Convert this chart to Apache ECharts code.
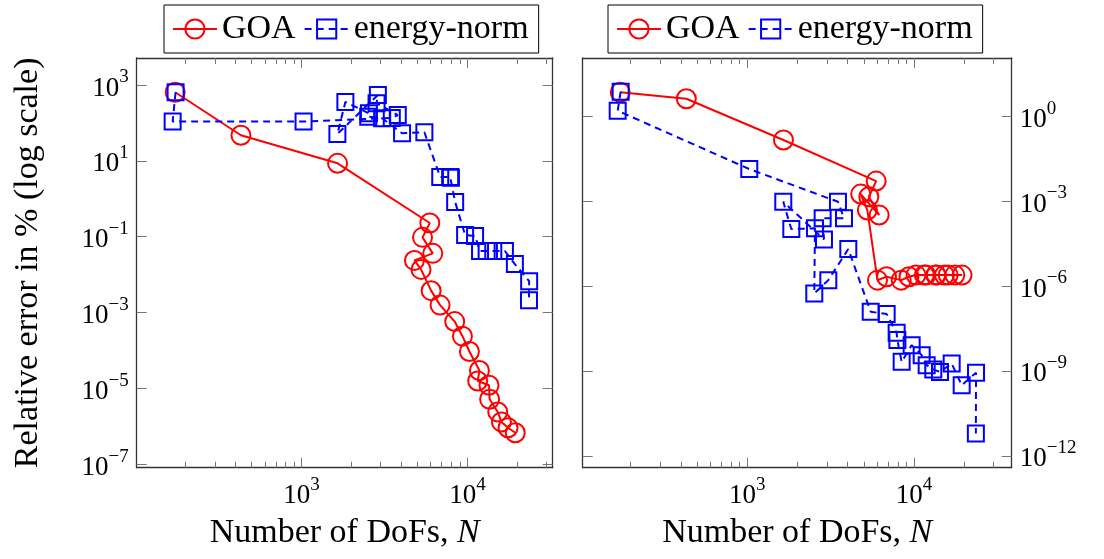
<!DOCTYPE html>
<html>
<head>
<meta charset="utf-8">
<script src="https://cdn.jsdelivr.net/npm/echarts@6/dist/echarts.min.js"></script>
<style>
  html, body { margin: 0; padding: 0; background: #fff; }
  #chart { width: 1104px; height: 559px; }
</style>
</head>
<body>
<div id="chart"></div>
<script>
// ---------- data ----------
// Degrees of freedom of the goal-oriented (GOA) refinement sequence
const goaDofs = [173, 431, 1648, 5930, 5360, 6180, 4790, 5250, 6040, 6840, 8380,
  9330, 10280, 11810, 11530, 13490, 13610, 15230, 16030, 17570, 19420];
// Relative error in % (left plot), GOA
const goaErrLeft = [641, 47.1, 8.59, 0.229, 0.0959, 0.0363, 0.0237, 0.0137, 3.78e-3,
  1.57e-3, 5.79e-4, 2.38e-4, 9.42e-5, 2.96e-5, 1.57e-5, 1.21e-5, 5.19e-6, 2.40e-6,
  1.31e-6, 9.18e-7, 6.78e-7];
// Relative error (right plot), GOA
const goaErrRight = [6.87, 4.08, 0.142, 5.05e-3, 1.41e-3, 3.18e-4, 1.75e-3, 4.76e-4,
  1.60e-6, 2.10e-6, 1.60e-6, 2.10e-6, 2.41e-6, 2.41e-6, 2.41e-6, 2.41e-6, 2.41e-6,
  2.41e-6, 2.41e-6, 2.41e-6, 2.41e-6];

// Degrees of freedom of the energy-norm refinement sequence
const energyDofs = [174, 167, 1028, 3499, 3802, 2832, 2884, 1644, 1837, 2547, 2523,
  3062, 4036, 5500, 6855, 7870, 7950, 8433, 9683, 11117, 11912, 13052, 14316, 16826,
  19319, 23550, 23500];
// Relative error in % (left plot), energy-norm
const energyErrLeft = [641, 108, 108, 134.5, 161, 329, 545, 50.9, 356, 179, 146, 132,
  53.2, 56.5, 3.74, 3.74, 3.6, 0.818, 0.110, 0.104, 0.0417, 0.0417, 0.0417, 0.0417,
  0.0189, 6.73e-3, 2.12e-3];
// Relative error (right plot), energy-norm
const energyErrRight = [7.22, 1.54, 0.0134, 9.37e-4, 2.43e-4, 2.43e-4, 4.4e-5,
  9.37e-4, 1.02e-4, 1.08e-4, 5.43e-7, 1.60e-6, 2.0e-5, 1.22e-7, 1.01e-7, 2.2e-8,
  1.22e-8, 2.08e-9, 8.1e-9, 3.59e-9, 1.59e-9, 1.12e-9, 9.2e-10, 1.82e-9, 3.13e-10,
  8.5e-10, 6.1e-12];

// Tick positions
const xMajorTicks = [1e3, 1e4];
const xMinorTicks = [200, 300, 400, 500, 600, 700, 800, 900,
  2000, 3000, 4000, 5000, 6000, 7000, 8000, 9000, 20000, 30000];
const leftYTicks = [1e-7, 1e-5, 1e-3, 1e-1, 1e1, 1e3];
const rightYTicks = [1e-12, 1e-9, 1e-6, 1e-3, 1e0];

const seriesNames = ['GOA', 'energy-norm'];

// ---------- styling ----------
const FONT = 'Liberation Serif';
const TEXT_SIZE = 34;
const TICK_COLOR = '#777';
const FRAME_COLOR = '#333';

function powerLabel(v) {
  const e = Math.round(Math.log10(v));
  const exp = e < 0 ? '\u2212' + (-e) : String(e);
  return '{b|10}{e|' + exp + '}';
}
const powerRich = {
  b: { fontFamily: FONT, fontSize: 27, color: '#000', lineHeight: 34, verticalAlign: 'bottom' },
  e: { fontFamily: FONT, fontSize: 19, color: '#000', lineHeight: 34, verticalAlign: 'top' }
};

function frameLine() {
  return { show: true, onZero: false, lineStyle: { color: FRAME_COLOR, width: 1.3 } };
}

// One panel = one grid with axes on all four sides
function panelAxes(gridIndex, xMin, xMax, yMin, yMax, yTicks, labelSide) {
  const xs = [
    { // bottom, labelled
      type: 'log', gridIndex, position: 'bottom', min: xMin, max: xMax,
      axisLine: frameLine(),
      axisTick: { show: true, inside: true, length: 10, customValues: xMajorTicks,
        lineStyle: { color: TICK_COLOR, width: 1 } },
      axisLabel: { show: true, customValues: xMajorTicks, formatter: powerLabel,
        rich: powerRich, margin: 8 },
      splitLine: { show: false },
      name: '{t|Number of DoFs, }{i|N}', nameLocation: 'middle', nameGap: 48,
      nameTextStyle: { rich: {
        t: { fontFamily: FONT, fontSize: TEXT_SIZE, color: '#000' },
        i: { fontFamily: FONT, fontSize: TEXT_SIZE, fontStyle: 'italic', color: '#000' } } }
    },
    { // bottom minor ticks
      type: 'log', gridIndex, position: 'bottom', min: xMin, max: xMax,
      axisLine: { show: false, onZero: false },
      axisTick: { show: true, inside: true, length: 6, customValues: xMinorTicks,
        lineStyle: { color: TICK_COLOR, width: 1 } },
      axisLabel: { show: false }, splitLine: { show: false }
    },
    { // top frame, major ticks
      type: 'log', gridIndex, position: 'top', min: xMin, max: xMax,
      axisLine: frameLine(),
      axisTick: { show: true, inside: true, length: 10, customValues: xMajorTicks,
        lineStyle: { color: TICK_COLOR, width: 1 } },
      axisLabel: { show: false }, splitLine: { show: false }
    },
    { // top minor ticks
      type: 'log', gridIndex, position: 'top', min: xMin, max: xMax,
      axisLine: { show: false, onZero: false },
      axisTick: { show: true, inside: true, length: 6, customValues: xMinorTicks,
        lineStyle: { color: TICK_COLOR, width: 1 } },
      axisLabel: { show: false }, splitLine: { show: false }
    }
  ];
  const mk = (side, labelled) => ({
    type: 'log', gridIndex, position: side, min: yMin, max: yMax,
    axisLine: frameLine(),
    axisTick: { show: true, inside: true, length: 10, customValues: yTicks,
      lineStyle: { color: TICK_COLOR, width: 1 } },
    axisLabel: labelled
      ? { show: true, customValues: yTicks, formatter: powerLabel, rich: powerRich, margin: 8 }
      : { show: false },
    splitLine: { show: false }
  });
  const ys = [mk(labelSide, true), mk(labelSide === 'left' ? 'right' : 'left', false)];
  return { xs, ys };
}

const leftPanel = panelAxes(0, 101.4, 32660, 8.13e-8, 5129, leftYTicks, 'left');
const rightPanel = panelAxes(1, 103, 38550, 3.8e-13, 112, rightYTicks, 'right');

leftPanel.ys[0].name = 'Relative error in % (log scale)';
leftPanel.ys[0].nameLocation = 'middle';
leftPanel.ys[0].nameGap = 92;
leftPanel.ys[0].nameTextStyle = { fontFamily: FONT, fontSize: TEXT_SIZE, color: '#000' };

const xAxes = leftPanel.xs.concat(rightPanel.xs);
const yAxes = leftPanel.ys.concat(rightPanel.ys);

function pairs(xs, ys) { return xs.map((x, i) => [x, ys[i]]); }

const goaStyle = {
  type: 'line', symbol: 'circle', symbolSize: 19,
  lineStyle: { color: '#ff0000', width: 2 },
  itemStyle: { color: 'rgba(255,255,255,0)', borderColor: '#ff0000', borderWidth: 2 }
};
const energyStyle = {
  type: 'line', symbol: 'rect', symbolSize: 16,
  lineStyle: { color: '#0000ff', width: 2, type: [7, 5] },
  itemStyle: { color: 'rgba(255,255,255,0)', borderColor: '#0000ff', borderWidth: 2 }
};

const series = [
  Object.assign({ name: 'GOA', xAxisIndex: 0, yAxisIndex: 0,
    data: pairs(goaDofs, goaErrLeft) }, goaStyle),
  Object.assign({ name: 'energy-norm', xAxisIndex: 0, yAxisIndex: 0,
    data: pairs(energyDofs, energyErrLeft) }, energyStyle),
  Object.assign({ name: 'GOA', xAxisIndex: 4, yAxisIndex: 2,
    data: pairs(goaDofs, goaErrRight) }, goaStyle),
  Object.assign({ name: 'energy-norm', xAxisIndex: 4, yAxisIndex: 2,
    data: pairs(energyDofs, energyErrRight) }, energyStyle)
];

function legendBox(left) {
  return {
    data: seriesNames, left: left, top: 5, orient: 'horizontal',
    selectedMode: false, itemWidth: 44, itemHeight: 24, itemGap: 8,
    padding: [7, 10, 7, 8], borderColor: '#000', borderWidth: 1, borderRadius: 0,
    backgroundColor: '#fff',
    textStyle: { fontFamily: FONT, fontSize: TEXT_SIZE, color: '#000' }
  };
}

const option = {
  animation: false,
  backgroundColor: '#fff',
  grid: [
    { left: 136.7, top: 58, width: 416, height: 409.7, outerBoundsMode: 'none' },
    { left: 582.7, top: 58, width: 429, height: 409.7, outerBoundsMode: 'none' }
  ],
  legend: [legendBox(164), legendBox(608)],
  xAxis: xAxes,
  yAxis: yAxes,
  series: series
};

const chart = echarts.init(document.getElementById('chart'), null, { renderer: 'canvas' });
chart.setOption(option);
</script>
</body>
</html>
